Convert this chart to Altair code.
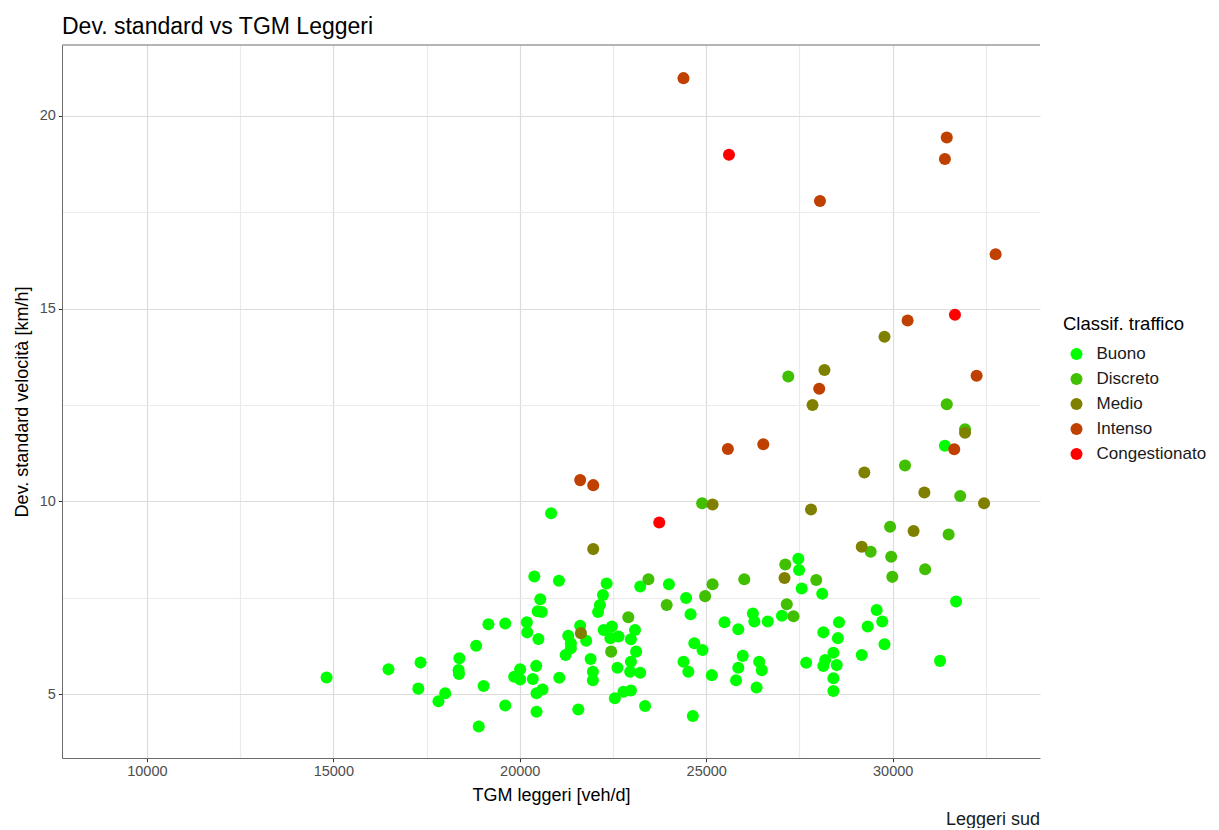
import altair as alt
import pandas as pd

FONT = "Liberation Sans"

classes = ["Buono", "Discreto", "Medio", "Intenso", "Congestionato"]
colors = ["#00FF00", "#40C000", "#808000", "#C04000", "#FF0000"]

buono_x = [14820, 16480, 17340, 17280, 17820, 18000, 18380, 18360, 18370, 18830, 19160, 19610,
           18900, 19030, 19610, 20840, 20390, 21050, 20550, 20480, 20590, 20190, 20200, 20500,
           20010, 19850, 20010, 20350, 20440, 20450, 20610, 20450, 21060, 21570, 21300, 21370,
           21370, 21230, 21620, 21780, 21900, 21960, 21960,
           22330, 22230, 22150, 22100, 23230, 24000, 24460, 24580, 27470, 27490, 27560, 28110, 27030,
           22250, 22470, 22430, 22650, 23090, 22980, 23120, 22980, 22960, 23230, 22620, 22550,
           22780, 22980, 23360,
           24680, 24900, 24390, 24520, 25150, 24640, 25490, 25860, 26250, 26290, 26650, 25980,
           25860, 25800, 26420, 26490, 26350, 27680, 28140, 28560, 28530, 28190, 28410, 28140,
           28500, 28410, 28410,
           31400, 31700, 29570, 29720, 29330, 29780, 29170, 31270]
buono_y = [5.43, 5.64, 5.82, 5.14, 4.81, 5.02, 5.93, 5.62, 5.52, 6.25, 6.81, 6.83,
           4.16, 5.21, 4.70, 9.69, 8.05, 7.94, 7.46, 7.15, 7.13, 6.86, 6.60, 6.43,
           5.64, 5.45, 5.38, 5.39, 5.73, 5.02, 5.12, 4.54, 5.42, 4.60, 6.51, 6.32,
           6.19, 6.01, 6.77, 6.38, 5.91, 5.58, 5.36,
           7.87, 7.57, 7.31, 7.13, 7.79, 7.85, 7.49, 7.07, 8.51, 8.22, 7.74, 7.60, 7.03,
           6.66, 6.75, 6.45, 6.49, 6.66, 6.42, 6.10, 5.84, 5.58, 5.55, 5.68, 4.89,
           5.06, 5.09, 4.69,
           6.32, 6.14, 5.84, 5.58, 5.49, 4.43, 6.86, 6.68, 7.09, 6.88, 6.88, 5.99,
           5.68, 5.36, 5.84, 5.62, 5.17, 5.81, 6.60, 6.86, 6.45, 5.88, 6.07, 5.73,
           5.75, 5.41, 5.08,
           11.44, 7.40, 7.18, 6.88, 6.75, 6.29, 6.01, 5.86]

discreto_x = [24890, 23450, 23940, 25170, 24970, 26020, 27120, 27950, 27160, 27340, 22450, 22910,
              27200, 31450, 31940, 30330, 31810, 29930, 31500, 29410, 29960, 29990, 30870]
discreto_y = [9.95, 7.98, 7.31, 7.85, 7.54, 7.98, 8.36, 7.96, 7.33, 7.02, 6.10, 6.99,
              13.24, 12.52, 11.87, 10.93, 10.14, 9.34, 9.14, 8.69, 8.56, 8.04, 8.24]

medio_x = [21970, 21640, 25170, 27810, 27100, 29240, 30850, 32450, 30560, 29170, 31940,
           29780, 28170, 27850]
medio_y = [8.76, 6.58, 9.92, 9.79, 8.01, 10.75, 10.23, 9.95, 9.23, 8.82, 11.78,
           14.27, 13.41, 12.50]

intenso_x = [21620, 21970, 24390, 31450, 31400, 28050, 32760, 30400, 28030, 32250, 31650,
             25580, 26530]
intenso_y = [10.55, 10.42, 20.98, 19.44, 18.88, 17.79, 16.41, 14.69, 12.92, 13.26, 11.35,
             11.36, 11.48]

congest_x = [23740, 25610, 31670]
congest_y = [9.45, 18.99, 14.84]

x_ticks = [10000, 12500, 15000, 17500, 20000, 22500, 25000, 27500, 30000, 32500]
y_ticks = [5, 7.5, 10, 12.5, 15, 17.5, 20]

rows = []
for cls, xs, ys in [("Buono", buono_x, buono_y), ("Discreto", discreto_x, discreto_y),
                    ("Medio", medio_x, medio_y), ("Intenso", intenso_x, intenso_y),
                    ("Congestionato", congest_x, congest_y)]:
    for a, b in zip(xs, ys):
        rows.append({"tgm": a, "dev": b, "classe": cls})
df = pd.DataFrame(rows)

W, H = 978, 713

xscale = alt.Scale(domain=[7725, 33950], nice=False, zero=False)
yscale = alt.Scale(domain=[3.34, 21.84], nice=False, zero=False)

def grid_color(mod):
    return {"condition": {"test": f"datum.value % {mod} == 0", "value": "#dcdcdc"}, "value": "#ebebeb"}

def tick_op(mod):
    return {"condition": {"test": f"datum.value % {mod} == 0", "value": 1}, "value": 0}

points = alt.Chart(df).mark_circle(size=145, opacity=1).encode(
    x=alt.X("tgm:Q", scale=xscale, title="TGM leggeri [veh/d]",
            axis=alt.Axis(values=x_ticks, format="d",
                          labelExpr="datum.value % 5000 == 0 ? datum.label : ''",
                          gridColor=grid_color(5000), tickOpacity=tick_op(5000))),
    y=alt.Y("dev:Q", scale=yscale, title="Dev. standard velocità [km/h]",
            axis=alt.Axis(values=y_ticks, format="d",
                          labelExpr="datum.value % 5 == 0 ? datum.label : ''",
                          gridColor=grid_color(5), tickOpacity=tick_op(5))),
    color=alt.Color("classe:N", title="Classif. traffico",
                    scale=alt.Scale(domain=classes, range=colors),
                    legend=alt.Legend(orient="none", legendX=1001, legendY=270,
                                      symbolType="circle", symbolSize=145,
                                      symbolOffset=5, labelOffset=11.5, rowPadding=7,
                                      titlePadding=12, padding=0,
                                      titleFontSize=18.5, labelFontSize=17,
                                      titleFontWeight="normal", titleColor="#000000",
                                      labelColor="#1a1a1a", titleFont=FONT, labelFont=FONT)),
)

top_border = alt.Chart(pd.DataFrame({"k": [0]})).mark_rule(color="#6b6b6b", strokeWidth=1).encode(
    x=alt.value(0), x2=alt.value(W), y=alt.value(0)
)

caption = alt.Chart(pd.DataFrame({"t": ["Leggeri sud"]})).mark_text(
    align="right", baseline="middle", fontSize=18, font=FONT, color="#1a1a1a"
).encode(text="t:N", x=alt.value(W), y=alt.value(775))

chart = alt.layer(points, top_border, caption).properties(
    width=W, height=H,
    title=alt.TitleParams("Dev. standard vs TGM Leggeri", anchor="start", frame="group",
                          fontSize=23, font=FONT, fontWeight="normal", color="#000000",
                          offset=6),
    autosize=alt.AutoSizeParams(type="none"),
    padding={"left": 54, "top": 37, "right": 171, "bottom": 70},
).configure_view(stroke=None).configure_axis(
    labelFont=FONT, titleFont=FONT, labelFontSize=14.5, titleFontSize=18,
    labelColor="#4d4d4d", titleColor="#000000", titleFontWeight="normal",
    domainColor="#6b6b6b", domainWidth=1, tickColor="#333333", tickSize=3.7,
    gridWidth=1.2
).configure_axisX(labelPadding=3, titlePadding=8).configure_axisY(labelPadding=3, titlePadding=8)

chart.save("out.html", embed_options={"renderer": "svg", "actions": False})
